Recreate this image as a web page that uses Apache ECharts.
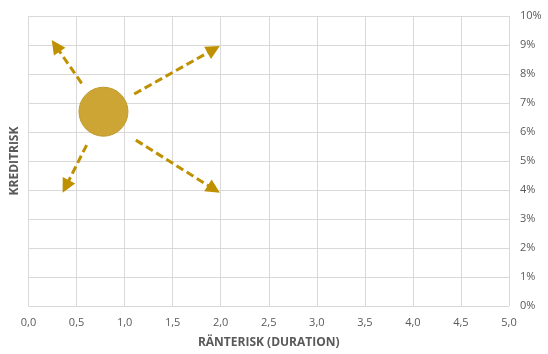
<!DOCTYPE html>
<html>
<head>
<meta charset="utf-8">
<script src="https://cdn.jsdelivr.net/npm/echarts@6/dist/echarts.min.js"></script>
<style>
  html, body { margin: 0; padding: 0; background: #fff; }
  #chart { width: 548px; height: 354px; }
</style>
</head>
<body>
<div id="chart"></div>
<script>
// Current position: duration (years) and credit risk (%)
const bubblePoint = [0.78, 6.7];

// Dashed arrows pointing to possible moves: [start, end]
const arrowStarts = [[0.553, 7.68], [1.10, 7.31], [0.605, 5.55], [1.117, 5.72]];
const arrowEnds   = [[0.283, 8.97], [1.927, 8.85], [0.388, 4.12], [1.929, 4.03]];

const xTicks = [0, 0.5, 1, 1.5, 2, 2.5, 3, 3.5, 4, 4.5, 5];
const yTicks = [0, 1, 2, 3, 4, 5, 6, 7, 8, 9, 10];

const gold = '#BF9000';
const bubbleFill = '#CCA535';
const textColor = '#595959';
const font = 'Open Sans';

const chart = echarts.init(document.getElementById('chart'));
chart.setOption({
  animation: false,
  grid: { left: 28.5, right: 39, top: 16, bottom: 48 },
  xAxis: {
    type: 'value',
    min: xTicks[0], max: xTicks[xTicks.length - 1], interval: 0.5,
    axisLine: { show: false },
    axisTick: { show: false },
    splitLine: { show: true, lineStyle: { color: '#D9D9D9', width: 1 } },
    axisLabel: {
      color: textColor, fontFamily: font, fontSize: 11, margin: 11,
      formatter: v => v.toFixed(1).replace('.', ',')
    },
    name: 'RÄNTERISK (DURATION)',
    nameLocation: 'middle',
    nameGap: 31,
    nameTextStyle: { color: textColor, fontFamily: font, fontSize: 12, fontWeight: 'bold' }
  },
  yAxis: {
    type: 'value',
    position: 'right',
    min: yTicks[0], max: yTicks[yTicks.length - 1], interval: 1,
    axisLine: { show: false },
    axisTick: { show: false },
    splitLine: { show: true, lineStyle: { color: '#D9D9D9', width: 1 } },
    axisLabel: {
      color: textColor, fontFamily: font, fontSize: 11, margin: 11,
      formatter: v => v + '%'
    }
  },
  graphic: [{
    type: 'text',
    x: 15, y: 161,
    rotation: Math.PI / 2,
    style: {
      text: 'KREDITRISK',
      fill: textColor,
      font: 'bold 12px "Open Sans"',
      align: 'center',
      verticalAlign: 'middle'
    }
  }],
  series: [
    {
      type: 'lines',
      coordinateSystem: 'cartesian2d',
      silent: true,
      symbol: ['none', 'triangle'],
      symbolSize: 14,
      lineStyle: { color: gold, width: 3, type: [8, 4], opacity: 1 },
      itemStyle: { color: gold },
      data: arrowStarts.map((s, i) => ({ coords: [s, arrowEnds[i]] })),
      z: 3
    },
    {
      type: 'scatter',
      silent: true,
      symbolSize: 49,
      itemStyle: { color: bubbleFill, borderColor: '#BF9A30', borderWidth: 1, opacity: 1 },
      data: [bubblePoint],
      z: 4
    }
  ]
});
</script>
</body>
</html>
